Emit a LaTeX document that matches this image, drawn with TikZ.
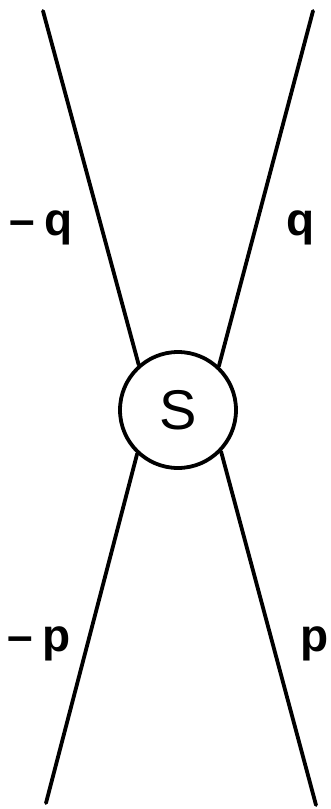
\documentclass[tikz,border=0pt]{standalone}
\usepackage{fontspec}
\setsansfont{Liberation Sans}
\usetikzlibrary{positioning}
\tikzset{
  blob/.style={circle, draw, line width=3.8pt, minimum size=116pt,
    inner sep=0pt, font=\sffamily\fontsize{56}{56}\selectfont},
  leg/.style={line width=3.8pt, line cap=round},
  momlabel/.style={font=\sffamily\bfseries\fontsize{46}{46}\selectfont,
    inner sep=0pt},
}
\begin{document}
\begin{tikzpicture}[x=1pt,y=-1pt]
\useasboundingbox (0,0) rectangle (331,809);

% scattering blob
\node[blob] (S) at (178,410) {S};

% external legs
\coordinate (qin)  at (43,11);
\coordinate (qout) at (313,11);
\coordinate (pin)  at (46,803);
\coordinate (pout) at (316,805);

\draw[leg] (qin) -- (S.131);
\draw[leg] (qout) -- (S.47);
\draw[leg] (pin) -- (S.227);
\draw[leg] (pout) -- (S.316);

% momentum labels
\node[momlabel] (lq1) at (41,228) {–\kern10pt q};
\node[momlabel] (lq2) at (301,228) {q};
\node[momlabel] (lp1) at (39,644) {–\kern10pt p};
\node[momlabel] (lp2) at (315,644) {p};

\end{tikzpicture}
\end{document}
